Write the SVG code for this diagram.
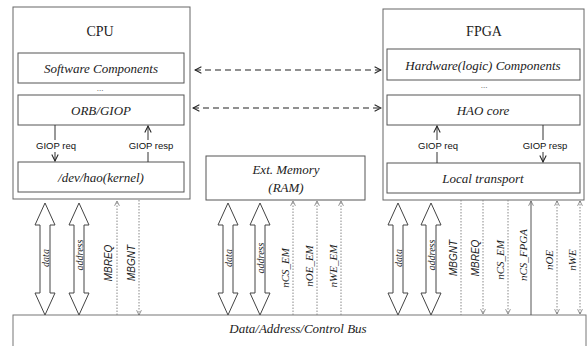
<svg xmlns="http://www.w3.org/2000/svg" width="588" height="346" viewBox="0 0 588 346">
  <style>
    .box { fill: #fff; stroke: #555; stroke-width: 1; }
    .outer { fill: none; stroke: #666; stroke-width: 1; }
    .title { font-family: "Liberation Serif", serif; font-size: 14px; fill: #222; text-anchor: middle; }
    .lbl { font-family: "Liberation Serif", serif; font-style: italic; font-size: 13px; fill: #222; text-anchor: middle; }
    .giop { font-family: "Liberation Sans", sans-serif; font-size: 9.5px; fill: #111; text-anchor: middle; }
    .bus { fill: #fff; stroke: #777; stroke-width: 1; }
    .wide { fill: #fff; stroke: #444; stroke-width: 1; }
    .wlbl { font-family: "Liberation Serif", serif; font-style: italic; font-size: 10px; fill: #222; text-anchor: middle; }
    .sig { stroke: #888; stroke-width: 1; stroke-dasharray: 1.5 1.5; fill: none; }
    .sigd { stroke: #555; stroke-width: 1; fill: none; }
    .sans { font-family: "Liberation Sans", sans-serif; font-style: italic; font-size: 10px; fill: #222; text-anchor: middle; }
    .ser { font-family: "Liberation Serif", serif; font-style: italic; font-size: 11px; fill: #222; text-anchor: middle; }
    .solid { stroke: #333; stroke-width: 1; fill: none; }
    .dash { stroke: #222; stroke-width: 1.2; stroke-dasharray: 6 4; fill: none; }
    .dots { font-family: "Liberation Serif", serif; font-size: 9px; fill: #555; text-anchor: middle; }
  </style>
  <defs>
    <marker id="open" viewBox="0 0 10 10" refX="9" refY="5" markerWidth="8" markerHeight="8" orient="auto-start-reverse" markerUnits="userSpaceOnUse">
      <path d="M1,1 L9,5 L1,9" fill="none" stroke="#222" stroke-width="1.3"/>
    </marker>
    <marker id="small" viewBox="0 0 10 10" refX="9" refY="5" markerWidth="6" markerHeight="6" orient="auto-start-reverse" markerUnits="userSpaceOnUse">
      <path d="M1,1 L9,5 L1,9" fill="none" stroke="#666" stroke-width="1.2"/>
    </marker>
  </defs>

  <!-- system bus -->
  <g id="bus">
    <rect class="bus" x="13" y="315" width="573" height="40"/>
    <text class="lbl" x="298" y="333">Data/Address/Control Bus</text>
  </g>

  <!-- CPU -->
  <g id="cpu">
    <rect class="outer" x="13" y="7" width="177" height="192"/>
    <text class="title" x="100" y="36">CPU</text>
    <text class="dots" x="100" y="91">...</text>
  </g>
  <g id="sw">
    <rect class="box" x="18" y="53" width="166" height="30"/>
    <text class="lbl" x="101" y="73">Software Components</text>
  </g>
  <g id="orb">
    <rect class="box" x="18" y="95" width="166" height="30"/>
    <text class="lbl" x="101" y="115">ORB/GIOP</text>
  </g>
  <g id="kernel">
    <rect class="box" x="18" y="162" width="166" height="30"/>
    <text class="lbl" x="101" y="182">/dev/hao(kernel)</text>
  </g>

  <!-- external memory -->
  <g id="extmem">
    <rect class="box" x="206" y="156" width="159" height="44"/>
    <text class="lbl" x="286" y="174">Ext. Memory</text>
    <text class="lbl" x="286" y="192">(RAM)</text>
  </g>

  <!-- FPGA -->
  <g id="fpga">
    <rect class="outer" x="383" y="9" width="201" height="191"/>
    <text class="title" x="484" y="36">FPGA</text>
    <text class="dots" x="484" y="88">...</text>
  </g>
  <g id="hw">
    <rect class="box" x="387" y="49" width="193" height="31"/>
    <text class="lbl" x="483" y="70">Hardware(logic) Components</text>
  </g>
  <g id="hao">
    <rect class="box" x="387" y="95" width="193" height="30"/>
    <text class="lbl" x="483" y="115">HAO core</text>
  </g>
  <g id="transport">
    <rect class="box" x="387" y="163" width="193" height="30"/>
    <text class="lbl" x="483" y="183">Local transport</text>
  </g>

  <!-- connectors -->
  <g id="connectors">
    <!-- peer links between CPU and FPGA layers -->
    <line class="dash" x1="195" y1="70" x2="381" y2="70" marker-start="url(#open)" marker-end="url(#open)"/>
    <line class="dash" x1="193" y1="108" x2="381" y2="108" marker-start="url(#open)" marker-end="url(#open)"/>

    <!-- GIOP request/response inside CPU -->
    <line class="solid" x1="55" y1="125" x2="55" y2="161" marker-end="url(#open)"/>
    <line class="solid" x1="148" y1="162" x2="148" y2="126" marker-end="url(#open)"/>
    <rect x="32" y="140" width="48" height="12" fill="#fff"/>
    <rect x="124" y="140" width="54" height="12" fill="#fff"/>
    <text class="giop" x="56" y="149">GIOP req</text>
    <text class="giop" x="151" y="149">GIOP resp</text>

    <!-- GIOP request/response inside FPGA -->
    <line class="solid" x1="437" y1="163" x2="437" y2="126" marker-end="url(#open)"/>
    <line class="solid" x1="543" y1="125" x2="543" y2="162" marker-end="url(#open)"/>
    <rect x="414" y="140" width="48" height="12" fill="#fff"/>
    <rect x="518" y="140" width="54" height="12" fill="#fff"/>
    <text class="giop" x="438" y="149">GIOP req</text>
    <text class="giop" x="545" y="149">GIOP resp</text>

    <!-- wide data/address bus arrows -->
    <g id="wide-arrows">
      <polygon class="wide" points="45,203 55,225 50,225 50,293 55,293 45,315 35,293 40,293 40,225 35,225"/>
      <polygon class="wide" points="79,203 89,225 84,225 84,293 89,293 79,315 69,293 74,293 74,225 69,225"/>
      <polygon class="wide" points="228,203 238,225 233,225 233,293 238,293 228,315 218,293 223,293 223,225 218,225"/>
      <polygon class="wide" points="260,203 270,225 265,225 265,293 270,293 260,315 250,293 255,293 255,225 250,225"/>
      <polygon class="wide" points="398,203 408,225 403,225 403,293 408,293 398,315 388,293 393,293 393,225 388,225"/>
      <polygon class="wide" points="431,203 441,225 436,225 436,293 441,293 431,315 421,293 426,293 426,225 421,225"/>
      <text class="wlbl" transform="translate(48.5,258) rotate(-90)">data</text>
      <text class="wlbl" transform="translate(82.5,255) rotate(-90)">address</text>
      <text class="wlbl" transform="translate(231.5,258) rotate(-90)">data</text>
      <text class="wlbl" transform="translate(263.5,258) rotate(-90)">address</text>
      <text class="wlbl" transform="translate(401.5,258) rotate(-90)">data</text>
      <text class="wlbl" transform="translate(434.5,255) rotate(-90)">address</text>
    </g>

    <!-- control signals, CPU side -->
    <line class="sig" x1="117" y1="315" x2="117" y2="201" marker-end="url(#small)"/>
    <line class="sig" x1="139" y1="200" x2="139" y2="315" marker-end="url(#small)"/>
    <text class="sans" transform="translate(112,263) rotate(-90)">MBREQ</text>
    <text class="sans" transform="translate(135,263) rotate(-90)">MBGNT</text>

    <!-- control signals, memory side -->
    <line class="sig" x1="293" y1="315" x2="293" y2="201" marker-end="url(#small)"/>
    <line class="sig" x1="317" y1="315" x2="317" y2="201" marker-end="url(#small)"/>
    <line class="sig" x1="341" y1="315" x2="341" y2="201" marker-end="url(#small)"/>
    <text class="ser" transform="translate(289,268) rotate(-90)">nCS_EM</text>
    <text class="ser" transform="translate(313,266) rotate(-90)">nOE_EM</text>
    <text class="ser" transform="translate(337,266) rotate(-90)">nWE_EM</text>

    <!-- control signals, FPGA side -->
    <line class="sig" x1="461" y1="200" x2="461" y2="315"/>
    <line class="sig" x1="483" y1="200" x2="483" y2="314" marker-end="url(#small)"/>
    <line class="sig" x1="508" y1="200" x2="508" y2="314" marker-end="url(#small)"/>
    <line class="sigd" x1="531" y1="315" x2="531" y2="201" marker-end="url(#small)"/>
    <line class="sig" x1="557" y1="201" x2="557" y2="314" marker-start="url(#small)" marker-end="url(#small)"/>
    <line class="sig" x1="580" y1="201" x2="580" y2="314" marker-start="url(#small)" marker-end="url(#small)"/>
    <text class="sans" transform="translate(457,258) rotate(-90)">MBGNT</text>
    <text class="sans" transform="translate(479,258) rotate(-90)">MBREQ</text>
    <text class="ser" transform="translate(504,260) rotate(-90)">nCS_EM</text>
    <text class="ser" transform="translate(527,255) rotate(-90)">nCS_FPGA</text>
    <text class="ser" transform="translate(553,260) rotate(-90)">nOE</text>
    <text class="ser" transform="translate(576,260) rotate(-90)">nWE</text>
  </g>
</svg>
